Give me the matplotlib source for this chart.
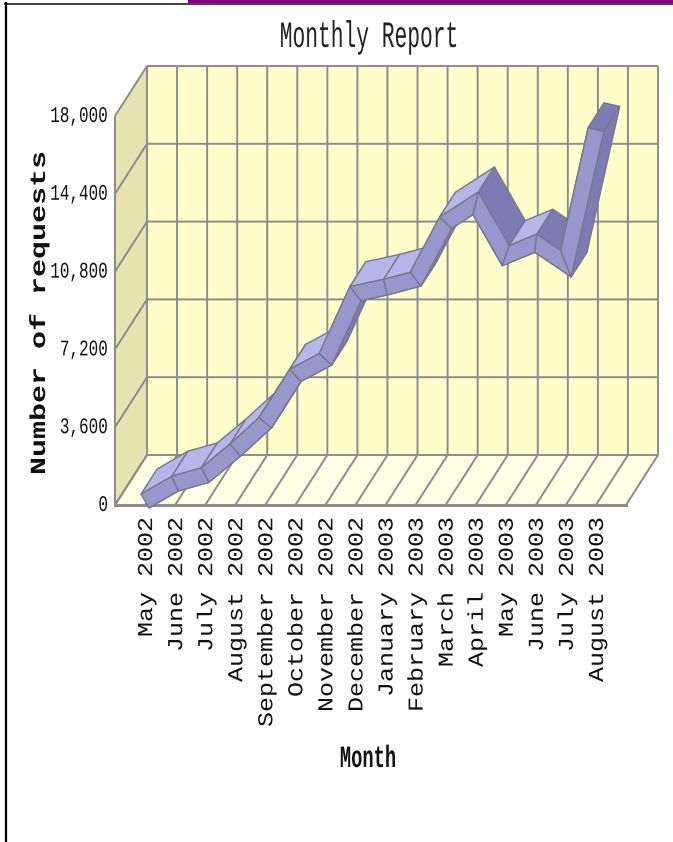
import numpy as np
import matplotlib
matplotlib.use("Agg")
import matplotlib.pyplot as plt
from matplotlib.patches import Polygon, Rectangle
from matplotlib.lines import Line2D
from matplotlib.patheffects import AbstractPathEffect
from matplotlib.transforms import Affine2D

months = ["May 2002", "June 2002", "July 2002", "August 2002", "September 2002",
          "October 2002", "November 2002", "December 2002", "January 2003",
          "February 2003", "March 2003", "April 2003", "May 2003", "June 2003",
          "July 2003", "August 2003"]
requests = [185, 990, 1385, 2540, 3810, 6000, 6740, 9780, 10080, 10450,
            13060, 13960, 11540, 12110, 11170, 17370]
y_ticks = [0, 3600, 7200, 10800, 14400, 18000]

GRID = "#8c8c8c"
EDGE = "#77778f"
LIGHT = "#b6b6e8"
MID = "#9797cb"
DARK = "#7c7cb2"

# pixels of the 3d look
DEPTH = np.array([32.0, 50.0])
RIBBON_DEPTH = DEPTH / 2
HALF_W = 8.0

W, H = 673, 842
fig = plt.figure(figsize=(W / 100, H / 100), dpi=100, facecolor="white")
ax = fig.add_axes([115 / W, (H - 505) / H, 511 / W, 389 / H])
ax.set_xlim(0, 17)
ax.set_ylim(0, 18000)
ax.axis("off")

sx = 511 / 17
sy = 389 / 18000
ddx, ddy = DEPTH[0] / sx, DEPTH[1] / sy


class Tall(AbstractPathEffect):
    # the old chart font is taller or flatter than anything installed
    def __init__(self, factor):
        super().__init__()
        self.factor = factor

    def draw_path(self, renderer, gc, tpath, affine, rgbFace=None):
        renderer.draw_path(gc, tpath, Affine2D().scale(1, self.factor) + affine, rgbFace)


def poly(pts, fc, ec=None, lw=1.0, z=1):
    ax.add_patch(Polygon(pts, closed=True, facecolor=fc, edgecolor=ec if ec else fc,
                         linewidth=lw, clip_on=False, zorder=z, joinstyle="round"))


# walls
poly([(ddx, ddy), (17 + ddx, ddy), (17 + ddx, 18000 + ddy), (ddx, 18000 + ddy)], "#ffffcc", z=1)
poly([(0, 0), (ddx, ddy), (ddx, 18000 + ddy), (0, 18000)], "#e4e4b0", z=1)
poly([(0, 0), (17, 0), (17 + ddx, ddy), (ddx, ddy)], "#ffffe4", z=1)

kw = dict(color=GRID, lw=1.4, clip_on=False, zorder=2, solid_capstyle="butt")
for v in y_ticks:
    ax.plot([0, ddx, 17 + ddx], [v, v + ddy, v + ddy], **kw)
for i in range(18):
    ax.plot([i, i + ddx, i + ddx], [0, ddy, 18000 + ddy], **kw)
ax.plot([0, 0], [0, 18000], **kw)
ax.plot([0, 17], [0, 0], color=GRID, lw=2.2, clip_on=False, zorder=2)

# ribbon outline, worked out in pixels then put back on the axes scale
cx = (np.arange(len(requests)) + 1) * sx
cy = np.array(requests) * sy
pts = np.column_stack([cx, cy])
seg = np.diff(pts, axis=0)
seg = seg / np.linalg.norm(seg, axis=1, keepdims=True)
nrm = np.column_stack([-seg[:, 1], seg[:, 0]])
off = np.zeros_like(pts)
off[0] = nrm[0] * HALF_W
off[-1] = nrm[-1] * HALF_W
for i in range(1, len(pts) - 1):
    m = nrm[i - 1] + nrm[i]
    m = m / np.linalg.norm(m)
    off[i] = m * HALF_W / max(np.dot(m, nrm[i]), 0.45)
top_px = pts + off
bot_px = pts - off


def to_data(p):
    return p / np.array([sx, sy])


top = to_data(top_px)
bot = to_data(bot_px)
back = to_data(RIBBON_DEPTH)

# back to front: extruded faces first, then the front face
for i in range(len(pts) - 1):
    rising = top[i + 1, 1] > top[i, 1]
    poly([bot[i], bot[i + 1], bot[i + 1] + back, bot[i] + back], DARK, EDGE, z=3)
    poly([top[i], top[i + 1], top[i + 1] + back, top[i] + back],
         LIGHT if rising else DARK, EDGE, z=3)
poly([top[-1], bot[-1], bot[-1] + back, top[-1] + back], DARK, EDGE, z=3)
for i in range(len(pts) - 1):
    poly([top[i], top[i + 1], bot[i + 1], bot[i]], MID, EDGE, z=4)

# text
mono = ["Liberation Mono", "DejaVu Sans Mono"]
for v in y_ticks:
    ax.text(-7 / sx, v - 6 / sy, f"{v:,}", ha="right", va="baseline", family=mono, fontsize=11.5,
            color="#111111", path_effects=[Tall(1.4)])
for i, m in enumerate(months):
    ax.text(i + 1 + 7 / sx, -12 / sy, m, rotation=90, rotation_mode="anchor", ha="right", va="baseline",
            family=mono, fontsize=18, color="#111111", path_effects=[Tall(0.85)])

fig.text(369 / W, 1 - 47 / H, "Monthly Report", ha="center", va="baseline", family=mono, fontsize=15.3,
         color="#222222", path_effects=[Tall(1.75)])
fig.text(45 / W, 1 - 313 / H, "Number of requests", rotation=90, rotation_mode="anchor", ha="center",
         va="baseline", family=mono, fontweight="bold", fontsize=21.6, color="#111111",
         path_effects=[Tall(0.72)])
fig.text(368 / W, 1 - 767 / H, "Month", ha="center", va="baseline", family=mono, fontweight="bold",
         fontsize=13.5, color="#111111", path_effects=[Tall(1.65)])

# page frame
fig.add_artist(Rectangle((188 / W, 1 - 3 / H), (W - 188) / W, 3 / H, transform=fig.transFigure, color="#800080", lw=0))
fig.add_artist(Line2D([5 / W, 1], [1 - 3.5 / H, 1 - 3.5 / H], color="#222222", lw=1.2))
fig.add_artist(Line2D([6 / W, 6 / W], [0, 1 - 3 / H], color="black", lw=1.6))

fig.savefig("out.png", dpi=100)
